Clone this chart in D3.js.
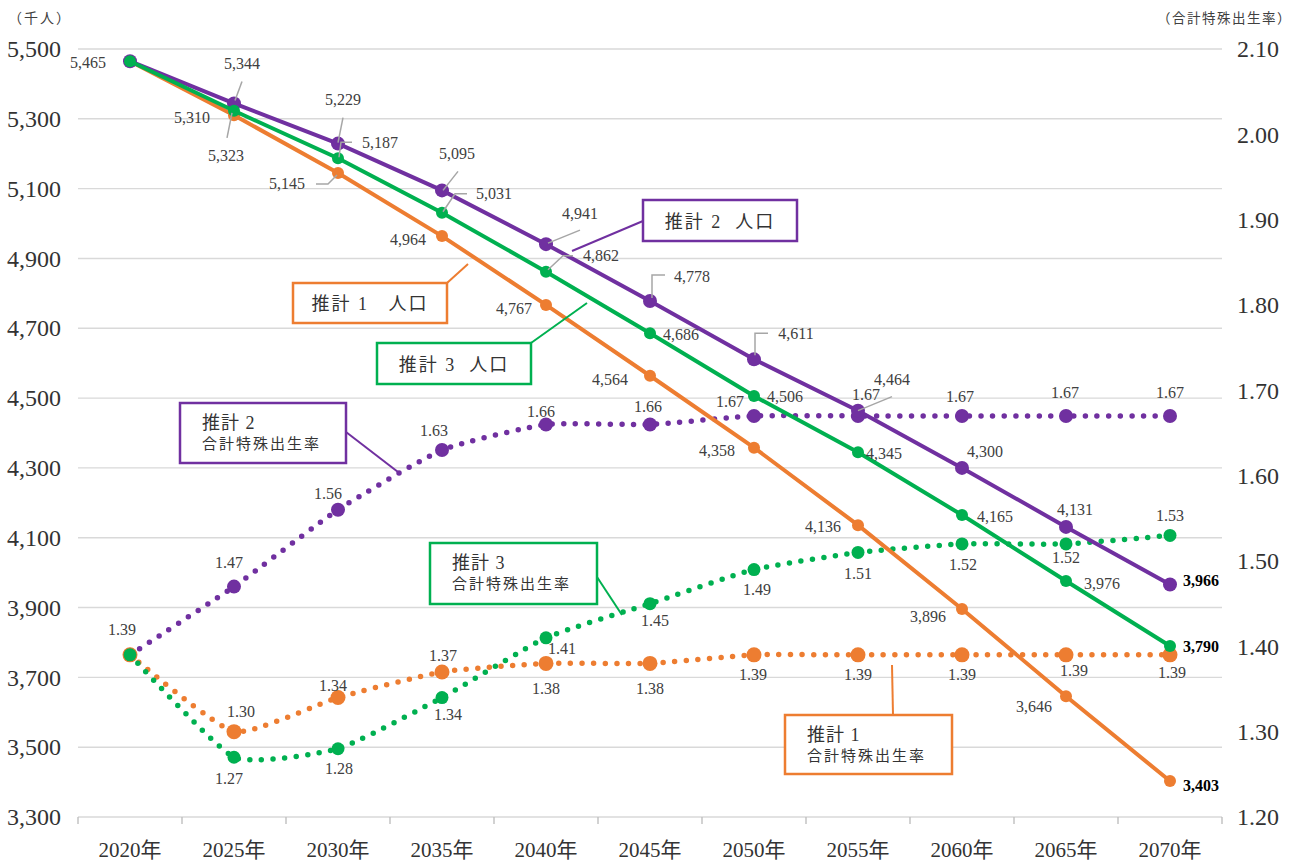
<!DOCTYPE html>
<html>
<head>
<meta charset="utf-8">
<script src="https://cdn.jsdelivr.net/npm/d3@7"></script>
<style>
  body { margin: 0; background: #fff; }
  svg { display: block; }
  text { font-family: "Liberation Serif", "Noto Sans CJK JP", serif; }
</style>
</head>
<body>
<svg id="chart" width="1303" height="861"></svg>
<script>
// categories
const years = ["2020年", "2025年", "2030年", "2035年", "2040年", "2045年", "2050年", "2055年", "2060年", "2065年", "2070年"];

// population (thousand people)
const popCase1 = [5465, 5310, 5145, 4964, 4767, 4564, 4358, 4136, 3896, 3646, 3403];
const popCase2 = [5465, 5344, 5229, 5095, 4941, 4778, 4611, 4464, 4300, 4131, 3966];
const popCase3 = [5465, 5323, 5187, 5031, 4862, 4686, 4506, 4345, 4165, 3976, 3790];

// total fertility rate
const tfrCase1 = [1.39, 1.30, 1.34, 1.37, 1.38, 1.38, 1.39, 1.39, 1.39, 1.39, 1.39];
const tfrCase2 = [1.39, 1.47, 1.56, 1.63, 1.66, 1.66, 1.67, 1.67, 1.67, 1.67, 1.67];
const tfrCase3 = [1.39, 1.27, 1.28, 1.34, 1.41, 1.45, 1.49, 1.51, 1.52, 1.52, 1.53];

// tick labels
const popTicks = [3300, 3500, 3700, 3900, 4100, 4300, 4500, 4700, 4900, 5100, 5300, 5500];
const tfrTicks = [1.2, 1.3, 1.4, 1.5, 1.6, 1.7, 1.8, 1.9, 2.0, 2.1];

const orange = "#ED7D31", purple = "#7030A0", green = "#00B050";
const labelColor = "#404040", leaderColor = "#a6a6a6";

const svg = d3.select("#chart");
const margin = { top: 49, right: 81, bottom: 44, left: 78 };
const width = 1303 - margin.left - margin.right;
const height = 861 - margin.top - margin.bottom;

const x = d3.scaleBand().domain(years).range([margin.left, margin.left + width]);
const cx = d => x(d) + x.bandwidth() / 2;
const yL = d3.scaleLinear().domain([3300, 5500]).range([margin.top + height, margin.top]);
const yR = d3.scaleLinear().domain([1.2, 2.1]).range([margin.top + height, margin.top]);

// grid
svg.append("g").selectAll("line")
  .data(popTicks)
  .enter().append("line")
  .attr("x1", margin.left).attr("x2", margin.left + width)
  .attr("y1", d => yL(d)).attr("y2", d => yL(d))
  .attr("stroke", "#d9d9d9").attr("stroke-width", 1.4);

// left axis
const gl = svg.append("g")
  .attr("transform", `translate(${margin.left},0)`)
  .call(d3.axisLeft(yL).tickValues(popTicks).tickFormat(d3.format(",")).tickSize(0).tickPadding(17));
gl.select(".domain").remove();
gl.selectAll("text").attr("font-size", 24).attr("fill", "#333");

// right axis
const gr = svg.append("g")
  .attr("transform", `translate(${margin.left + width},0)`)
  .call(d3.axisRight(yR).tickValues(tfrTicks).tickFormat(d3.format(".2f")).tickSize(0).tickPadding(15));
gr.select(".domain").remove();
gr.selectAll("text").attr("font-size", 24).attr("fill", "#333");

// bottom axis
const gb = svg.append("g")
  .attr("transform", `translate(0,${margin.top + height})`)
  .call(d3.axisBottom(x).tickSize(0));
gb.select(".domain").remove();
gb.selectAll("text").attr("font-size", 21).attr("fill", "#333")
  .attr("y", 33).attr("dy", "0.35em");
svg.append("g").selectAll("line")
  .data(years.concat([null]))
  .enter().append("line")
  .attr("x1", d => d ? x(d) : margin.left + width)
  .attr("x2", d => d ? x(d) : margin.left + width)
  .attr("y1", margin.top + height).attr("y2", margin.top + height + 7)
  .attr("stroke", "#bfbfbf").attr("stroke-width", 1.4);

// unit labels
svg.append("text").attr("x", 8).attr("y", 18).attr("dominant-baseline", "central")
  .attr("font-size", 14).attr("letter-spacing", 2).attr("fill", "#404040")
  .text("（千人）");
svg.append("text").attr("x", 1292).attr("y", 18).attr("dominant-baseline", "central")
  .attr("text-anchor", "end")
  .attr("font-size", 13.5).attr("letter-spacing", 1.5).attr("fill", "#404040")
  .text("（合計特殊出生率）");

// label offsets relative to each point [dx, dy], null = no label
const offPop1 = [[-42, 1], [-42, 2], [-51, 11], [-34, 3], [-32, 4], [-40, 4], [-37, 3], [-35, 1], [-34, 8], [-32, 10], [31, 4]];
const offPop2 = [null, [8, -40], [5, -44], [15, -37], [34, -31], [42, -25], [42, -26], [34, -31], [23, -16], [9, -17], [31, -4]];
const offPop3 = [null, [-8, 45], [42, -16], [52, -19], [55, -16], [31, 1], [31, 1], [26, 1], [33, 1], [36, 2], [31, 1]];
const offTfr1 = [null, [7, -20], [-5, -12], [1, -16], [0, 25], [0, 25], [-1, 20], [0, 20], [0, 20], [8, 16], [2, 18]];
const offTfr2 = [[-8, -25], [-5, -24], [-10, -16], [-8, -20], [-5, -13], [-2, -18], [-24, -14], [8, -21], [-2, -19], [-1, -23], [0, -23]];
const offTfr3 = [null, [-5, 21], [1, 20], [6, 17], [16, 11], [5, 17], [3, 20], [0, 21], [1, 21], [0, 14], [0, -20]];

// leader lines relative to each point
const leadPop1 = { 2: [[-22, 11], [-10, 11], [-1, 2]] };
const leadPop2 = {
  1: [[8, -22], [1, -3]], 2: [[5, -26], [0, -1]], 3: [[16, -19], [1, 0]], 4: [[34, -14], [2, -1]],
  5: [[15, -26], [2, -26], [2, -3]], 6: [[14, -26], [1, -26], [1, -4]], 7: [[34, -14], [0, 0]]
};
const leadPop3 = {
  1: [[-2, 2], [-7, 27]], 2: [[14, -16], [3, -16], [1, -1]], 3: [[25, -19], [13, -19], [1, -1]],
  4: [[27, -16], [17, -16], [2, -2]]
};

const tfrSeries = [
  { values: tfrCase1, color: orange, r: 7.5, off: offTfr1 },
  { values: tfrCase2, color: purple, r: 7, off: offTfr2 },
  { values: tfrCase3, color: green, r: 6.5, off: offTfr3 }
];
const popSeries = [
  { values: popCase1, color: orange, r: 6, off: offPop1, lead: leadPop1 },
  { values: popCase2, color: purple, r: 7, off: offPop2, lead: leadPop2 },
  { values: popCase3, color: green, r: 6, off: offPop3, lead: leadPop3 }
];

// TFR dotted smooth lines
const tfrLine = d3.line()
  .x((d, i) => cx(years[i]))
  .y(d => yR(d))
  .curve(d3.curveCardinal.tension(0.5));

tfrSeries.forEach(s => {
  svg.append("path")
    .datum(s.values)
    .attr("fill", "none")
    .attr("stroke", s.color)
    .attr("stroke-width", 5.5)
    .attr("stroke-linecap", "round")
    .attr("stroke-dasharray", "0 11.6")
    .attr("d", tfrLine);
});
// orange first so green sits on top at 2020
[tfrSeries[1], tfrSeries[0], tfrSeries[2]].forEach(s => {
  svg.append("g").selectAll("circle")
    .data(s.values)
    .enter().append("circle")
    .attr("cx", (d, i) => cx(years[i]))
    .attr("cy", d => yR(d))
    .attr("r", s.r)
    .attr("fill", s.color);
});

// population solid lines
const popLine = d3.line()
  .x((d, i) => cx(years[i]))
  .y(d => yL(d));

popSeries.forEach(s => {
  svg.append("path")
    .datum(s.values)
    .attr("fill", "none")
    .attr("stroke", s.color)
    .attr("stroke-width", 4)
    .attr("d", popLine);
  svg.append("g").selectAll("circle")
    .data(s.values)
    .enter().append("circle")
    .attr("cx", (d, i) => cx(years[i]))
    .attr("cy", d => yL(d))
    .attr("r", s.r)
    .attr("fill", s.color);
});

// leader lines
popSeries.forEach(s => {
  Object.keys(s.lead).forEach(k => {
    const i = +k;
    const px = cx(years[i]), py = yL(s.values[i]);
    svg.append("path")
      .attr("fill", "none")
      .attr("stroke", leaderColor)
      .attr("stroke-width", 1.5)
      .attr("d", d3.line()(s.lead[k].map(p => [px + p[0], py + p[1]])));
  });
});

// data labels
const fmtPop = d3.format(",");
popSeries.forEach(s => {
  s.values.forEach((v, i) => {
    if (!s.off[i]) return;
    const isLast = i === s.values.length - 1;
    svg.append("text")
      .attr("x", cx(years[i]) + s.off[i][0])
      .attr("y", yL(v) + s.off[i][1])
      .attr("text-anchor", "middle")
      .attr("dominant-baseline", "central")
      .attr("font-size", 16)
      .attr("font-weight", isLast ? "bold" : "normal")
      .attr("fill", isLast ? "#000" : labelColor)
      .text(fmtPop(v));
  });
});
tfrSeries.forEach(s => {
  s.values.forEach((v, i) => {
    if (!s.off[i]) return;
    svg.append("text")
      .attr("x", cx(years[i]) + s.off[i][0])
      .attr("y", yR(v) + s.off[i][1])
      .attr("text-anchor", "middle")
      .attr("dominant-baseline", "central")
      .attr("font-size", 16)
      .attr("fill", labelColor)
      .text(v.toFixed(2));
  });
});

// callout boxes
const callouts = [
  { x: 643, y: 200, w: 154, h: 41, color: purple, lines: ["推計 2  人口"], size: [18], line: [[643, 221], [572, 251]] },
  { x: 293, y: 283, w: 154, h: 40, color: orange, lines: ["推計 1   人口"], size: [18], line: [[447, 283], [468, 264]] },
  { x: 377, y: 343, w: 154, h: 41, color: green, lines: ["推計 3  人口"], size: [18], line: [[531, 343], [587, 303]] },
  { x: 180, y: 403, w: 166, h: 60, color: purple, lines: ["推計 2", "合計特殊出生率"], size: [18, 15], line: [[346, 432], [398, 472]] },
  { x: 430, y: 543, w: 167, h: 61, color: green, lines: ["推計 3", "合計特殊出生率"], size: [18, 15], line: [[597, 577], [622, 615]] },
  { x: 785, y: 715, w: 167, h: 59, color: orange, lines: ["推計 1", "合計特殊出生率"], size: [18, 15], line: [[893, 715], [892, 665]] }
];

callouts.forEach(c => {
  svg.append("path")
    .attr("d", d3.line()(c.line))
    .attr("stroke", c.color).attr("stroke-width", 2).attr("fill", "none");
  svg.append("rect")
    .attr("x", c.x).attr("y", c.y).attr("width", c.w).attr("height", c.h)
    .attr("fill", "#fff").attr("stroke", c.color).attr("stroke-width", 2.5);
  if (c.lines.length === 1) {
    svg.append("text")
      .attr("x", c.x + c.w / 2).attr("y", c.y + c.h / 2 + 1)
      .attr("text-anchor", "middle").attr("dominant-baseline", "central")
      .attr("font-size", c.size[0]).attr("letter-spacing", 2)
      .attr("fill", "#333").style("white-space", "pre")
      .text(c.lines[0]);
  } else {
    svg.append("text")
      .attr("x", c.x + 22).attr("y", c.y + 20)
      .attr("dominant-baseline", "central")
      .attr("font-size", c.size[0]).attr("letter-spacing", 1)
      .attr("fill", "#333").style("white-space", "pre")
      .text(c.lines[0]);
    svg.append("text")
      .attr("x", c.x + 22).attr("y", c.y + 41)
      .attr("dominant-baseline", "central")
      .attr("font-size", c.size[1]).attr("letter-spacing", 2)
      .attr("fill", "#333")
      .text(c.lines[1]);
  }
});
</script>
</body>
</html>
